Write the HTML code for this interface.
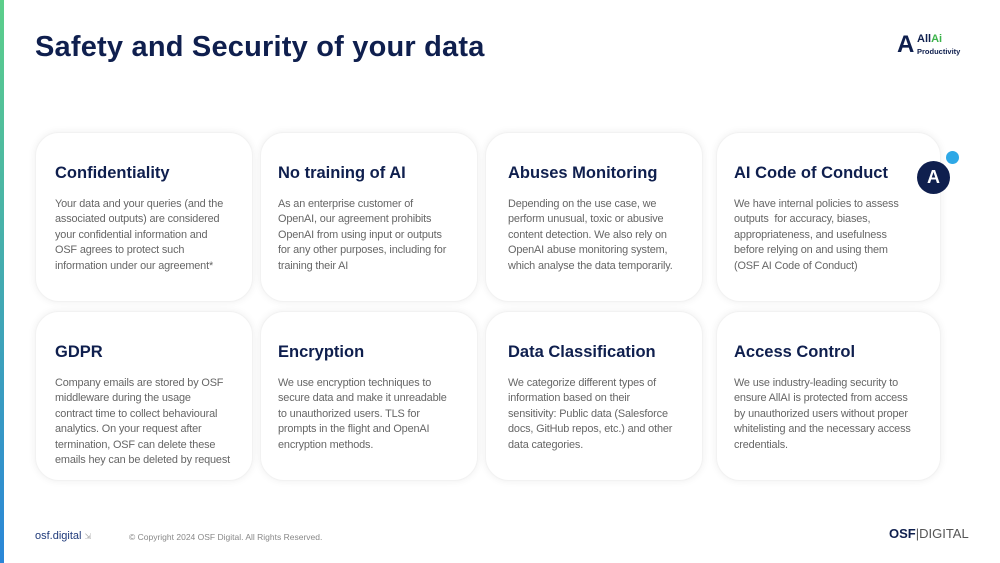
<!DOCTYPE html>
<html><head><meta charset="utf-8"><style>
*{margin:0;padding:0;box-sizing:border-box}
body{width:1000px;height:563px;background:#fff;position:relative;overflow:hidden;font-family:"Liberation Sans",sans-serif}
.bar{position:absolute;left:0;top:0;width:4px;height:563px;background:linear-gradient(#5ccf8a,#2a86d8)}
h1{position:absolute;left:35px;top:31px;font-size:29px;font-weight:bold;color:#0f1f4e;letter-spacing:0.2px}
.card{position:absolute;background:#fff;border-radius:24px;box-shadow:0 0 8px rgba(0,0,0,0.07);border:1px solid #f2f2f2}
.card h2{position:absolute;left:19px;top:31px;font-size:16.5px;font-weight:bold;color:#0f1f4e;white-space:nowrap}
.card p{position:absolute;left:19px;top:64px;font-size:10.9px;line-height:15.4px;color:#666;white-space:nowrap;letter-spacing:-0.15px}
.foot{position:absolute;top:531px;font-size:10px}
</style></head><body>
<div class="bar"></div>
<h1>Safety and Security of your data</h1>
<div style="position:absolute;left:897px;top:31px;font-size:24px;font-weight:bold;color:#0f1f4e">A</div>
<div style="position:absolute;left:917px;top:33px;font-size:11px;font-weight:bold;color:#0f1f4e">All<span style="color:#3bb34a">Ai</span></div>
<div style="position:absolute;left:917px;top:47px;font-size:7.5px;font-weight:bold;color:#0f1f4e">Productivity</div>

<div class="card" style="left:35px;top:132px;width:218px;height:170px"><h2>Confidentiality</h2><p>Your data and your queries (and the<br>associated outputs) are considered<br>your confidential information and<br>OSF agrees to protect such<br>information under our agreement*</p></div>
<div class="card" style="left:260px;top:132px;width:218px;height:170px"><h2 style="left:17px">No training of AI</h2><p style="left:17px">As an enterprise customer of<br>OpenAI, our agreement prohibits<br>OpenAI from using input or outputs<br>for any other purposes, including for<br>training their AI</p></div>
<div class="card" style="left:485px;top:132px;width:218px;height:170px"><h2 style="left:22px">Abuses Monitoring</h2><p style="left:22px">Depending on the use case, we<br>perform unusual, toxic or abusive<br>content detection. We also rely on<br>OpenAI abuse monitoring system,<br>which analyse the data temporarily.</p></div>
<div class="card" style="left:716px;top:132px;width:225px;height:170px"><h2 style="left:17px">AI Code of Conduct</h2><p style="left:17px">We have internal policies to assess<br>outputs &nbsp;for accuracy, biases,<br>appropriateness, and usefulness<br>before relying on and using them<br>(OSF AI Code of Conduct)</p></div>
<div class="card" style="left:35px;top:311px;width:218px;height:170px"><h2>GDPR</h2><p>Company emails are stored by OSF<br>middleware during the usage<br>contract time to collect behavioural<br>analytics. On your request after<br>termination, OSF can delete these<br>emails hey can be deleted by request</p></div>
<div class="card" style="left:260px;top:311px;width:218px;height:170px"><h2 style="left:17px">Encryption</h2><p style="left:17px">We use encryption techniques to<br>secure data and make it unreadable<br>to unauthorized users. TLS for<br>prompts in the flight and OpenAI<br>encryption methods.</p></div>
<div class="card" style="left:485px;top:311px;width:218px;height:170px"><h2 style="left:22px">Data Classification</h2><p style="left:22px">We categorize different types of<br>information based on their<br>sensitivity: Public data (Salesforce<br>docs, GitHub repos, etc.) and other<br>data categories.</p></div>
<div class="card" style="left:716px;top:311px;width:225px;height:170px"><h2 style="left:17px">Access Control</h2><p style="left:17px">We use industry-leading security to<br>ensure AllAI is protected from access<br>by unauthorized users without proper<br>whitelisting and the necessary access<br>credentials.</p></div>

<div style="position:absolute;left:917px;top:161px;width:33px;height:33px;border-radius:50%;background:#0f1f4e;color:#fff;font-weight:bold;font-size:18px;text-align:center;line-height:33px">A</div>
<div style="position:absolute;left:946px;top:151px;width:13px;height:13px;border-radius:50%;background:#2ea8e6"></div>

<div class="foot" style="left:35px;color:#1f3a7a;font-size:11px;top:530px">osf.digital <span style="color:#aaa;font-size:8px">⇲</span></div>
<div class="foot" style="left:129px;color:#888;font-size:8.5px;top:532px">© Copyright 2024 OSF Digital. All Rights Reserved.</div>
<div class="foot" style="left:889px;top:526px;font-size:13px;color:#0f1f4e"><b>OSF</b><span style="color:#555">|DIGITAL</span></div>
</body></html>
